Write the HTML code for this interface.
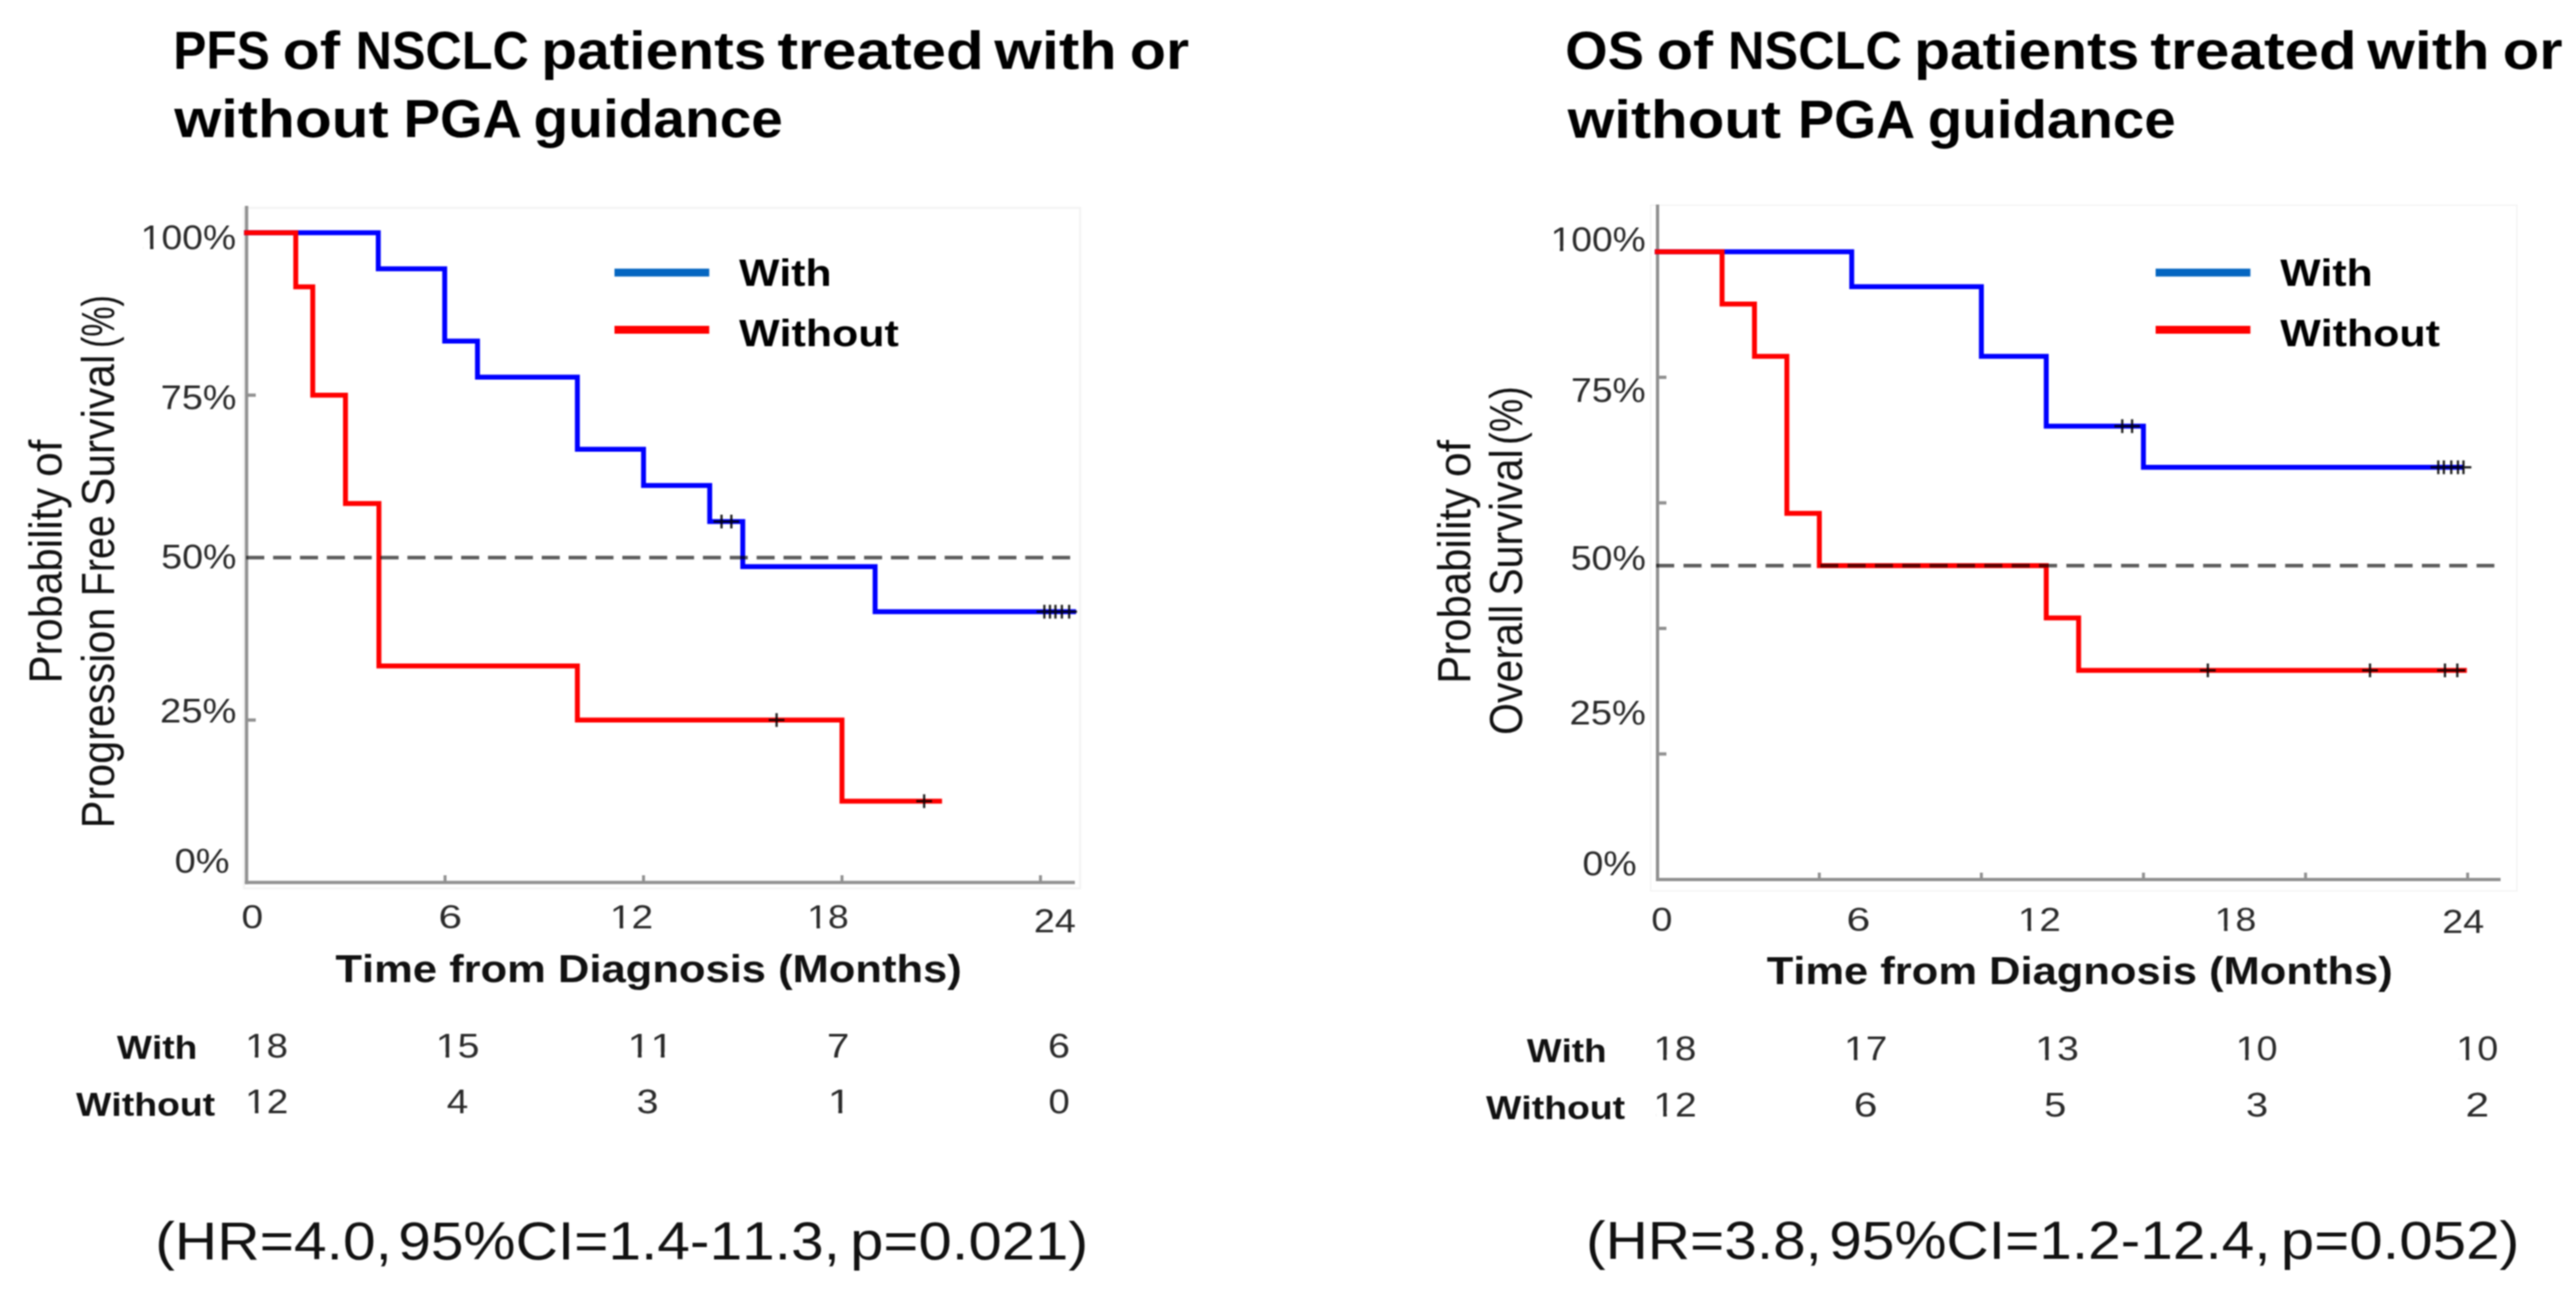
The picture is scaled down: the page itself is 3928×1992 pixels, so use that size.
<!DOCTYPE html>
<html><head><meta charset="utf-8"><title>KM curves</title>
<style>
html,body{margin:0;padding:0;background:#fff;width:3928px;height:1992px;overflow:hidden}
svg{display:block;filter:blur(0.9px)}
text{font-family:"Liberation Sans",sans-serif;font-kerning:none}
</style></head><body>
<svg width="3928" height="1992" viewBox="0 0 3928 1992">
<rect width="3928" height="1992" fill="#fff"/>
<rect x="372" y="317" width="1275" height="1038" fill="none" stroke="#f3f3f3" stroke-width="3"/>
<line x1="376" y1="314" x2="376" y2="1348.5" stroke="#909090" stroke-width="5"/>
<line x1="373.5" y1="1346" x2="1639" y2="1346" stroke="#909090" stroke-width="5"/>
<line x1="678.64" y1="1335" x2="678.64" y2="1346" stroke="#909090" stroke-width="4.5"/>
<line x1="981.28" y1="1335" x2="981.28" y2="1346" stroke="#909090" stroke-width="4.5"/>
<line x1="1283.92" y1="1335" x2="1283.92" y2="1346" stroke="#909090" stroke-width="4.5"/>
<line x1="1586.56" y1="1335" x2="1586.56" y2="1346" stroke="#909090" stroke-width="4.5"/>
<line x1="376" y1="1098.25" x2="390" y2="1098.25" stroke="#909090" stroke-width="5"/>
<line x1="376" y1="602.75" x2="390" y2="602.75" stroke="#909090" stroke-width="5"/>
<path d="M376.0,355.0 H576.8 V410.1 H678.1 V520.2 H728.1 V575.2 H880.4 V685.3 H981.3 V740.4 H1082.2 V795.4 H1132.6 V864.3 H1334.4 V933.1 H1637.0" fill="none" stroke="#0000ff" stroke-width="7.5" stroke-linejoin="miter" stroke-linecap="square"/>
<path d="M376.0,355.0 H451.0 V437.6 H476.9 V602.8 H526.8 V767.9 H577.8 V1015.7 H880.4 V1098.2 H1283.9 V1222.1 H1432.7" fill="none" stroke="#ff0000" stroke-width="7.5" stroke-linejoin="miter" stroke-linecap="square"/>
<path d="M1100.2,784.9 V805.9 M1088.2,795.4 H1112.2 M1115.2,784.9 V805.9 M1103.2,795.4 H1127.2 M1592.5,922.6 V943.6 M1580.5,933.1 H1604.5 M1601.0,922.6 V943.6 M1589.0,933.1 H1613.0 M1609.4,922.6 V943.6 M1597.4,933.1 H1621.4 M1619.2,922.6 V943.6 M1607.2,933.1 H1631.2 M1630.3,922.6 V943.6 M1618.3,933.1 H1642.3 " stroke="#222" stroke-width="3.5" fill="none" style="mix-blend-mode:multiply"/>
<path d="M1184.2,1087.8 V1108.8 M1172.2,1098.2 H1196.2 M1409.2,1211.6 V1232.6 M1397.2,1222.1 H1421.2 " stroke="#222" stroke-width="3.5" fill="none" style="mix-blend-mode:multiply"/>
<line x1="375.5" y1="850.5" x2="1632" y2="850.5" stroke="#5c5c5c" stroke-width="5.5" stroke-dasharray="27.5 13.46" style="mix-blend-mode:multiply"/>
<text x="264.19" y="105.00" font-size="82" font-weight="700" fill="#000" textLength="147.23" lengthAdjust="spacingAndGlyphs">PFS</text>
<text x="431.10" y="105.00" font-size="82" font-weight="700" fill="#000" textLength="87.40" lengthAdjust="spacingAndGlyphs">of</text>
<text x="542.33" y="105.00" font-size="82" font-weight="700" fill="#000" textLength="264.04" lengthAdjust="spacingAndGlyphs">NSCLC</text>
<text x="825.18" y="105.00" font-size="82" font-weight="700" fill="#000" textLength="343.45" lengthAdjust="spacingAndGlyphs">patients</text>
<text x="1185.42" y="105.00" font-size="82" font-weight="700" fill="#000" textLength="314.91" lengthAdjust="spacingAndGlyphs">treated</text>
<text x="1516.23" y="105.00" font-size="82" font-weight="700" fill="#000" textLength="186.56" lengthAdjust="spacingAndGlyphs">with</text>
<text x="1722.79" y="105.00" font-size="82" font-weight="700" fill="#000" textLength="90.37" lengthAdjust="spacingAndGlyphs">or</text>
<text x="265.73" y="209.00" font-size="82" font-weight="700" fill="#000" textLength="326.96" lengthAdjust="spacingAndGlyphs">without</text>
<text x="615.49" y="209.00" font-size="82" font-weight="700" fill="#000" textLength="180.26" lengthAdjust="spacingAndGlyphs">PGA</text>
<text x="813.64" y="209.00" font-size="82" font-weight="700" fill="#000" textLength="380.08" lengthAdjust="spacingAndGlyphs">guidance</text>
<text x="214.60" y="380.00" font-size="51" font-weight="400" fill="#2a2a2a" textLength="145.40" lengthAdjust="spacingAndGlyphs">100%</text>
<text x="245.11" y="624.00" font-size="51" font-weight="400" fill="#2a2a2a" textLength="115.55" lengthAdjust="spacingAndGlyphs">75%</text>
<text x="245.70" y="866.50" font-size="51" font-weight="400" fill="#2a2a2a" textLength="114.95" lengthAdjust="spacingAndGlyphs">50%</text>
<text x="244.09" y="1102.30" font-size="51" font-weight="400" fill="#2a2a2a" textLength="116.59" lengthAdjust="spacingAndGlyphs">25%</text>
<text x="266.28" y="1330.90" font-size="51" font-weight="400" fill="#2a2a2a" textLength="83.77" lengthAdjust="spacingAndGlyphs">0%</text>
<text x="368.33" y="1415.80" font-size="50" font-weight="400" fill="#2a2a2a" textLength="32.96" lengthAdjust="spacingAndGlyphs">0</text>
<text x="668.56" y="1415.80" font-size="50" font-weight="400" fill="#2a2a2a" textLength="36.08" lengthAdjust="spacingAndGlyphs">6</text>
<text x="930.08" y="1415.80" font-size="50" font-weight="400" fill="#2a2a2a" textLength="65.82" lengthAdjust="spacingAndGlyphs">12</text>
<text x="1230.89" y="1415.80" font-size="50" font-weight="400" fill="#2a2a2a" textLength="63.37" lengthAdjust="spacingAndGlyphs">18</text>
<text x="1576.62" y="1422.40" font-size="50" font-weight="400" fill="#2a2a2a" textLength="63.99" lengthAdjust="spacingAndGlyphs">24</text>
<text x="511.54" y="1498.30" font-size="60" font-weight="700" fill="#111" textLength="955.06" lengthAdjust="spacingAndGlyphs">Time from Diagnosis (Months)</text>
<text transform="rotate(-90)" x="-1042.27" y="94.30" font-size="70" font-weight="400" fill="#111" textLength="298.27" lengthAdjust="spacingAndGlyphs">Probability</text>
<text transform="rotate(-90)" x="-727.39" y="94.30" font-size="70" font-weight="400" fill="#111" textLength="56.72" lengthAdjust="spacingAndGlyphs">of</text>
<text transform="rotate(-90)" x="-1263.20" y="174.30" font-size="70" font-weight="400" fill="#111" textLength="336.31" lengthAdjust="spacingAndGlyphs">Progression</text>
<text transform="rotate(-90)" x="-909.46" y="174.30" font-size="70" font-weight="400" fill="#111" textLength="123.69" lengthAdjust="spacingAndGlyphs">Free</text>
<text transform="rotate(-90)" x="-771.82" y="174.30" font-size="70" font-weight="400" fill="#111" textLength="230.95" lengthAdjust="spacingAndGlyphs">Survival</text>
<text transform="rotate(-90)" x="-530.84" y="174.30" font-size="70" font-weight="400" fill="#111" textLength="80.56" lengthAdjust="spacingAndGlyphs">(%)</text>
<line x1="937" y1="415.7" x2="1081.5" y2="415.7" stroke="#0566c1" stroke-width="12"/>
<line x1="937" y1="503" x2="1081.5" y2="503" stroke="#ff0000" stroke-width="12"/>
<text x="1127.00" y="436.00" font-size="57" font-weight="700" fill="#000" textLength="140.94" lengthAdjust="spacingAndGlyphs">With</text>
<text x="1127.00" y="528.00" font-size="57" font-weight="700" fill="#000" textLength="243.54" lengthAdjust="spacingAndGlyphs">Without</text>
<text x="178.30" y="1615.10" font-size="50" font-weight="700" fill="#111" textLength="122.63" lengthAdjust="spacingAndGlyphs">With</text>
<text x="116.10" y="1702.00" font-size="50" font-weight="700" fill="#111" textLength="211.93" lengthAdjust="spacingAndGlyphs">Without</text>
<text x="373.92" y="1612.50" font-size="51" font-weight="400" fill="#2a2a2a" textLength="65.31" lengthAdjust="spacingAndGlyphs">18</text>
<text x="664.51" y="1612.50" font-size="51" font-weight="400" fill="#2a2a2a" textLength="66.63" lengthAdjust="spacingAndGlyphs">15</text>
<text x="956.93" y="1612.50" font-size="51" font-weight="400" fill="#2a2a2a" textLength="69.94" lengthAdjust="spacingAndGlyphs">11</text>
<text x="1261.12" y="1612.50" font-size="51" font-weight="400" fill="#2a2a2a" textLength="34.23" lengthAdjust="spacingAndGlyphs">7</text>
<text x="1597.98" y="1612.50" font-size="51" font-weight="400" fill="#2a2a2a" textLength="33.55" lengthAdjust="spacingAndGlyphs">6</text>
<text x="373.88" y="1698.30" font-size="51" font-weight="400" fill="#2a2a2a" textLength="65.82" lengthAdjust="spacingAndGlyphs">12</text>
<text x="681.27" y="1698.30" font-size="51" font-weight="400" fill="#2a2a2a" textLength="32.82" lengthAdjust="spacingAndGlyphs">4</text>
<text x="970.75" y="1698.30" font-size="51" font-weight="400" fill="#2a2a2a" textLength="33.37" lengthAdjust="spacingAndGlyphs">3</text>
<text x="1262.27" y="1698.30" font-size="51" font-weight="400" fill="#2a2a2a" textLength="35.87" lengthAdjust="spacingAndGlyphs">1</text>
<text x="1598.66" y="1698.30" font-size="51" font-weight="400" fill="#2a2a2a" textLength="32.50" lengthAdjust="spacingAndGlyphs">0</text>
<text x="236.80" y="1920.50" font-size="82" font-weight="400" fill="#111" textLength="360.80" lengthAdjust="spacingAndGlyphs">(HR=4.0,</text>
<text x="607.15" y="1920.50" font-size="82" font-weight="400" fill="#111" textLength="673.64" lengthAdjust="spacingAndGlyphs">95%CI=1.4-11.3,</text>
<text x="1296.26" y="1920.50" font-size="82" font-weight="400" fill="#111" textLength="363.29" lengthAdjust="spacingAndGlyphs">p=0.021)</text>
<rect x="2517" y="313" width="1321" height="1046" fill="none" stroke="#f3f3f3" stroke-width="2"/>
<line x1="2527.5" y1="312" x2="2527.5" y2="1344" stroke="#909090" stroke-width="5"/>
<line x1="2525" y1="1341.5" x2="3813" y2="1341.5" stroke="#909090" stroke-width="5"/>
<line x1="2774.15" y1="1331" x2="2774.15" y2="1341.5" stroke="#909090" stroke-width="4.5"/>
<line x1="3021.3" y1="1331" x2="3021.3" y2="1341.5" stroke="#909090" stroke-width="4.5"/>
<line x1="3268.45" y1="1331" x2="3268.45" y2="1341.5" stroke="#909090" stroke-width="4.5"/>
<line x1="3515.6" y1="1331" x2="3515.6" y2="1341.5" stroke="#909090" stroke-width="4.5"/>
<line x1="3762.75" y1="1331" x2="3762.75" y2="1341.5" stroke="#909090" stroke-width="4.5"/>
<line x1="2527" y1="1150.0" x2="2541" y2="1150.0" stroke="#909090" stroke-width="5"/>
<line x1="2527" y1="958.5" x2="2541" y2="958.5" stroke="#909090" stroke-width="5"/>
<line x1="2527" y1="767.0" x2="2541" y2="767.0" stroke="#909090" stroke-width="5"/>
<line x1="2527" y1="575.5" x2="2541" y2="575.5" stroke="#909090" stroke-width="5"/>
<path d="M2527.0,384.0 H2823.6 V437.2 H3021.3 V543.6 H3120.2 V650.0 H3268.4 V712.8 H3752.9" fill="none" stroke="#0000ff" stroke-width="7.5" stroke-linejoin="miter" stroke-linecap="square"/>
<path d="M2527.0,384.0 H2625.9 V463.8 H2675.3 V543.6 H2724.7 V783.0 H2774.2 V862.8 H3120.2 V942.5 H3169.6 V1022.4 H3757.8" fill="none" stroke="#ff0000" stroke-width="7.5" stroke-linejoin="miter" stroke-linecap="square"/>
<path d="M3236.1,639.5 V660.5 M3224.1,650.0 H3248.1 M3251.1,639.5 V660.5 M3239.1,650.0 H3263.1 M3718.0,702.3 V723.3 M3706.0,712.8 H3730.0 M3726.5,702.3 V723.3 M3714.5,712.8 H3738.5 M3737.8,702.3 V723.3 M3725.8,712.8 H3749.8 M3748.0,702.3 V723.3 M3736.0,712.8 H3760.0 M3756.4,702.3 V723.3 M3744.4,712.8 H3768.4 " stroke="#222" stroke-width="3.5" fill="none" style="mix-blend-mode:multiply"/>
<path d="M3366.6,1011.9 V1032.9 M3354.6,1022.4 H3378.6 M3613.9,1011.9 V1032.9 M3601.9,1022.4 H3625.9 M3728.2,1011.9 V1032.9 M3716.2,1022.4 H3740.2 M3747.0,1011.9 V1032.9 M3735.0,1022.4 H3759.0 " stroke="#222" stroke-width="3.5" fill="none" style="mix-blend-mode:multiply"/>
<line x1="2525.4" y1="862.75" x2="3803.5" y2="862.75" stroke="#5c5c5c" stroke-width="5.5" stroke-dasharray="27.5 14.2" style="mix-blend-mode:multiply"/>
<text x="2386.88" y="105.00" font-size="82" font-weight="700" fill="#000" textLength="119.93" lengthAdjust="spacingAndGlyphs">OS</text>
<text x="2526.26" y="105.00" font-size="82" font-weight="700" fill="#000" textLength="85.83" lengthAdjust="spacingAndGlyphs">of</text>
<text x="2635.01" y="105.00" font-size="82" font-weight="700" fill="#000" textLength="265.07" lengthAdjust="spacingAndGlyphs">NSCLC</text>
<text x="2918.68" y="105.00" font-size="82" font-weight="700" fill="#000" textLength="343.45" lengthAdjust="spacingAndGlyphs">patients</text>
<text x="3278.92" y="105.00" font-size="82" font-weight="700" fill="#000" textLength="314.91" lengthAdjust="spacingAndGlyphs">treated</text>
<text x="3609.73" y="105.00" font-size="82" font-weight="700" fill="#000" textLength="186.45" lengthAdjust="spacingAndGlyphs">with</text>
<text x="3816.26" y="105.00" font-size="82" font-weight="700" fill="#000" textLength="91.11" lengthAdjust="spacingAndGlyphs">or</text>
<text x="2390.43" y="209.50" font-size="82" font-weight="700" fill="#000" textLength="325.35" lengthAdjust="spacingAndGlyphs">without</text>
<text x="2741.74" y="209.50" font-size="82" font-weight="700" fill="#000" textLength="178.59" lengthAdjust="spacingAndGlyphs">PGA</text>
<text x="2939.56" y="209.50" font-size="82" font-weight="700" fill="#000" textLength="378.04" lengthAdjust="spacingAndGlyphs">guidance</text>
<text x="2364.41" y="382.70" font-size="51" font-weight="400" fill="#2a2a2a" textLength="145.19" lengthAdjust="spacingAndGlyphs">100%</text>
<text x="2395.45" y="613.00" font-size="51" font-weight="400" fill="#2a2a2a" textLength="114.09" lengthAdjust="spacingAndGlyphs">75%</text>
<text x="2394.90" y="868.60" font-size="51" font-weight="400" fill="#2a2a2a" textLength="114.85" lengthAdjust="spacingAndGlyphs">50%</text>
<text x="2393.39" y="1104.50" font-size="51" font-weight="400" fill="#2a2a2a" textLength="116.39" lengthAdjust="spacingAndGlyphs">25%</text>
<text x="2412.91" y="1335.20" font-size="51" font-weight="400" fill="#2a2a2a" textLength="82.82" lengthAdjust="spacingAndGlyphs">0%</text>
<text x="2518.09" y="1420.30" font-size="50" font-weight="400" fill="#2a2a2a" textLength="32.15" lengthAdjust="spacingAndGlyphs">0</text>
<text x="2815.42" y="1420.30" font-size="50" font-weight="400" fill="#2a2a2a" textLength="36.44" lengthAdjust="spacingAndGlyphs">6</text>
<text x="3077.12" y="1420.30" font-size="50" font-weight="400" fill="#2a2a2a" textLength="65.36" lengthAdjust="spacingAndGlyphs">12</text>
<text x="3377.08" y="1420.30" font-size="50" font-weight="400" fill="#2a2a2a" textLength="63.48" lengthAdjust="spacingAndGlyphs">18</text>
<text x="3724.12" y="1423.00" font-size="50" font-weight="400" fill="#2a2a2a" textLength="63.99" lengthAdjust="spacingAndGlyphs">24</text>
<text x="2693.94" y="1500.80" font-size="60" font-weight="700" fill="#111" textLength="954.55" lengthAdjust="spacingAndGlyphs">Time from Diagnosis (Months)</text>
<text transform="rotate(-90)" x="-1042.67" y="2242.00" font-size="70" font-weight="400" fill="#111" textLength="298.27" lengthAdjust="spacingAndGlyphs">Probability</text>
<text transform="rotate(-90)" x="-727.79" y="2242.00" font-size="70" font-weight="400" fill="#111" textLength="56.72" lengthAdjust="spacingAndGlyphs">of</text>
<text transform="rotate(-90)" x="-1120.98" y="2320.50" font-size="70" font-weight="400" fill="#111" textLength="198.41" lengthAdjust="spacingAndGlyphs">Overall</text>
<text transform="rotate(-90)" x="-908.83" y="2320.50" font-size="70" font-weight="400" fill="#111" textLength="223.52" lengthAdjust="spacingAndGlyphs">Survival</text>
<text transform="rotate(-90)" x="-678.39" y="2320.50" font-size="70" font-weight="400" fill="#111" textLength="89.24" lengthAdjust="spacingAndGlyphs">(%)</text>
<line x1="3287" y1="415.7" x2="3431.5" y2="415.7" stroke="#0566c1" stroke-width="12"/>
<line x1="3287" y1="503" x2="3431.5" y2="503" stroke="#ff0000" stroke-width="12"/>
<text x="3477.00" y="436.00" font-size="57" font-weight="700" fill="#000" textLength="140.94" lengthAdjust="spacingAndGlyphs">With</text>
<text x="3477.00" y="528.00" font-size="57" font-weight="700" fill="#000" textLength="243.54" lengthAdjust="spacingAndGlyphs">Without</text>
<text x="2328.30" y="1619.60" font-size="50" font-weight="700" fill="#111" textLength="121.40" lengthAdjust="spacingAndGlyphs">With</text>
<text x="2266.10" y="1707.00" font-size="50" font-weight="700" fill="#111" textLength="211.93" lengthAdjust="spacingAndGlyphs">Without</text>
<text x="2521.41" y="1617.00" font-size="51" font-weight="400" fill="#2a2a2a" textLength="65.43" lengthAdjust="spacingAndGlyphs">18</text>
<text x="2812.08" y="1617.00" font-size="51" font-weight="400" fill="#2a2a2a" textLength="65.82" lengthAdjust="spacingAndGlyphs">17</text>
<text x="3103.52" y="1617.00" font-size="51" font-weight="400" fill="#2a2a2a" textLength="66.45" lengthAdjust="spacingAndGlyphs">13</text>
<text x="3409.16" y="1617.00" font-size="51" font-weight="400" fill="#2a2a2a" textLength="63.73" lengthAdjust="spacingAndGlyphs">10</text>
<text x="3745.56" y="1617.00" font-size="51" font-weight="400" fill="#2a2a2a" textLength="63.73" lengthAdjust="spacingAndGlyphs">10</text>
<text x="2521.37" y="1702.50" font-size="51" font-weight="400" fill="#2a2a2a" textLength="65.93" lengthAdjust="spacingAndGlyphs">12</text>
<text x="2826.76" y="1702.50" font-size="51" font-weight="400" fill="#2a2a2a" textLength="36.08" lengthAdjust="spacingAndGlyphs">6</text>
<text x="3117.07" y="1702.50" font-size="51" font-weight="400" fill="#2a2a2a" textLength="33.84" lengthAdjust="spacingAndGlyphs">5</text>
<text x="3424.72" y="1702.50" font-size="51" font-weight="400" fill="#2a2a2a" textLength="33.84" lengthAdjust="spacingAndGlyphs">3</text>
<text x="3759.56" y="1702.50" font-size="51" font-weight="400" fill="#2a2a2a" textLength="36.06" lengthAdjust="spacingAndGlyphs">2</text>
<text x="2418.42" y="1920.00" font-size="82" font-weight="400" fill="#111" textLength="359.76" lengthAdjust="spacingAndGlyphs">(HR=3.8,</text>
<text x="2789.26" y="1920.00" font-size="82" font-weight="400" fill="#111" textLength="673.03" lengthAdjust="spacingAndGlyphs">95%CI=1.2-12.4,</text>
<text x="3477.75" y="1920.00" font-size="82" font-weight="400" fill="#111" textLength="364.11" lengthAdjust="spacingAndGlyphs">p=0.052)</text>
<rect x="218.35" y="372.03" width="10.46" height="8.96" fill="#fff"/>
<rect x="234.00" y="372.03" width="10.16" height="8.96" fill="#fff"/>
<rect x="933.98" y="1407.99" width="10.89" height="8.79" fill="#fff"/>
<rect x="950.27" y="1407.99" width="10.57" height="8.79" fill="#fff"/>
<rect x="1234.64" y="1407.99" width="10.49" height="8.79" fill="#fff"/>
<rect x="1250.33" y="1407.99" width="10.18" height="8.79" fill="#fff"/>
<rect x="377.79" y="1604.53" width="10.81" height="8.96" fill="#fff"/>
<rect x="393.96" y="1604.53" width="10.49" height="8.96" fill="#fff"/>
<rect x="668.46" y="1604.53" width="11.03" height="8.96" fill="#fff"/>
<rect x="684.95" y="1604.53" width="10.70" height="8.96" fill="#fff"/>
<rect x="961.07" y="1604.53" width="11.57" height="8.96" fill="#fff"/>
<rect x="978.39" y="1604.53" width="11.24" height="8.96" fill="#fff"/>
<rect x="996.04" y="1604.53" width="11.57" height="8.96" fill="#fff"/>
<rect x="1013.35" y="1604.53" width="11.24" height="8.96" fill="#fff"/>
<rect x="377.78" y="1690.33" width="10.89" height="8.96" fill="#fff"/>
<rect x="394.07" y="1690.33" width="10.57" height="8.96" fill="#fff"/>
<rect x="1266.52" y="1690.33" width="11.87" height="8.96" fill="#fff"/>
<rect x="1284.28" y="1690.33" width="11.53" height="8.96" fill="#fff"/>
<rect x="2368.15" y="374.73" width="10.45" height="8.96" fill="#fff"/>
<rect x="2383.78" y="374.73" width="10.14" height="8.96" fill="#fff"/>
<rect x="3080.99" y="1412.49" width="10.82" height="8.79" fill="#fff"/>
<rect x="3097.17" y="1412.49" width="10.50" height="8.79" fill="#fff"/>
<rect x="3380.84" y="1412.49" width="10.51" height="8.79" fill="#fff"/>
<rect x="3396.56" y="1412.49" width="10.20" height="8.79" fill="#fff"/>
<rect x="2525.29" y="1609.03" width="10.83" height="8.96" fill="#fff"/>
<rect x="2541.49" y="1609.03" width="10.51" height="8.96" fill="#fff"/>
<rect x="2815.98" y="1609.03" width="10.89" height="8.96" fill="#fff"/>
<rect x="2832.27" y="1609.03" width="10.57" height="8.96" fill="#fff"/>
<rect x="3107.46" y="1609.03" width="11.00" height="8.96" fill="#fff"/>
<rect x="3123.92" y="1609.03" width="10.68" height="8.96" fill="#fff"/>
<rect x="3412.93" y="1609.03" width="10.55" height="8.96" fill="#fff"/>
<rect x="3428.71" y="1609.03" width="10.24" height="8.96" fill="#fff"/>
<rect x="3749.33" y="1609.03" width="10.55" height="8.96" fill="#fff"/>
<rect x="3765.11" y="1609.03" width="10.24" height="8.96" fill="#fff"/>
<rect x="2525.28" y="1694.53" width="10.91" height="8.96" fill="#fff"/>
<rect x="2541.60" y="1694.53" width="10.59" height="8.96" fill="#fff"/>
</svg>
</body></html>
